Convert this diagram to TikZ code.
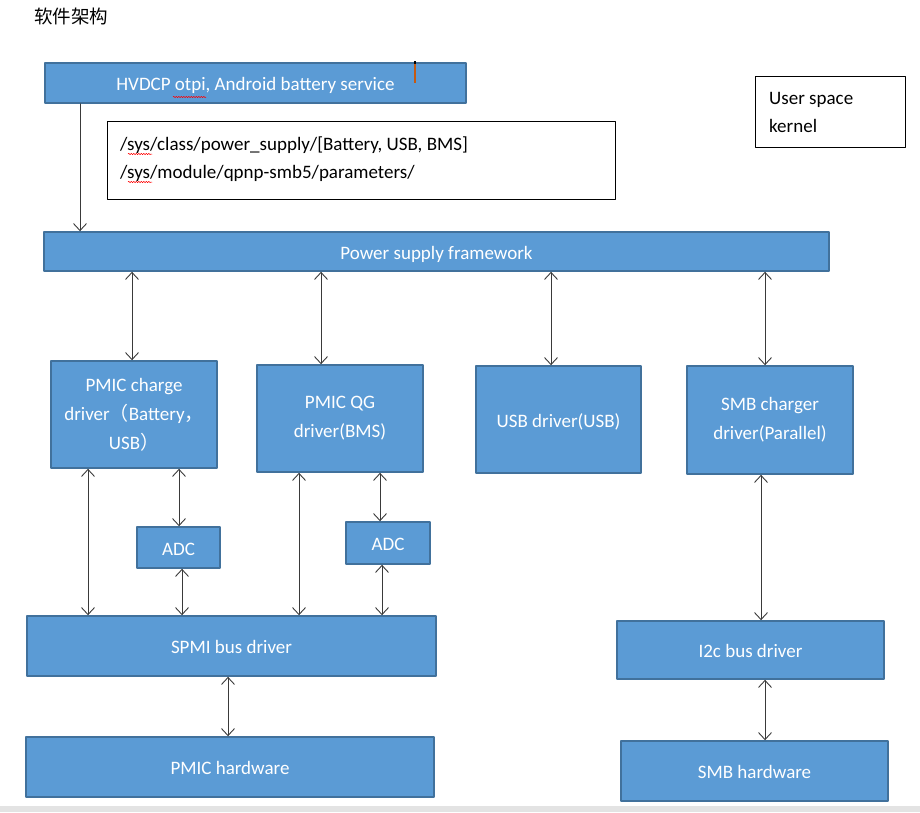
\documentclass[tikz,border=0pt]{standalone}
\usepackage{fontspec}
\setmainfont{Carlito}
\newfontfamily\cjk{Noto Sans CJK SC}
\usetikzlibrary{arrows.meta,decorations.pathmorphing}
\definecolor{boxfill}{HTML}{5B9BD5}
\definecolor{boxline}{HTML}{41719C}
\definecolor{wireline}{HTML}{3A3A3A}
\definecolor{cursor}{HTML}{C55A11}
\tikzset{
  blk/.style={draw=boxline, line width=1.6pt, fill=boxfill, text=white,
    font=\fontsize{19}{29}\selectfont, align=center, inner sep=0pt},
  oneline/.style={text height=16pt, text depth=1pt},
  note/.style={draw=black, line width=1pt, fill=white, inner sep=0pt},
  notetext/.style={anchor=base west, inner sep=0pt, font=\fontsize{19}{29}\selectfont},
  tip/.tip={Straight Barb[length=7pt,width=13pt]},
  link/.style={wireline, line width=0.9pt, tip-tip},
  squiggle/.style={red, line width=0.5pt, decorate,
    decoration={snake, amplitude=0.7pt, segment length=2.5pt}},
}
\begin{document}
\begin{tikzpicture}[x=1pt, y=-1pt, line cap=round, line join=round]
  % page frame, pixel coordinates
  \useasboundingbox (0,0) rectangle (920,812);
  \fill[gray!22] (0,806) rectangle (920,812);

  % title
  \node[inner sep=0pt, font=\cjk\fontsize{18.5}{22}\selectfont] (title) at (71,16) {软件架构};

  % user space
  \node[blk, oneline, minimum width=421, minimum height=40] (hvdcp) at (255.5,83) {HVDCP otpi, Android battery service};
  \draw[squiggle] (173,97) -- (206,97);
  \draw[cursor, line width=1.2pt, line cap=butt] (415,63) -- (415,83);
  \draw[black, line width=1.2pt, line cap=butt] (415,61) -- (415,63.5);

  \node[note, minimum width=508, minimum height=78] (sysfs) at (361,160) {};
  \node[notetext] (sysclass) at (120,150) {/sys/class/power\_supply/[Battery, USB, BMS]};
  \node[notetext] (sysmodule) at (120,178) {/sys/module/qpnp-smb5/parameters/};
  \draw[squiggle] (128,154) -- (152,154);
  \draw[squiggle] (128,182) -- (152,182);

  \node[note, minimum width=150, minimum height=71] (legend) at (830,111.5) {};
  \node[notetext] (userspace) at (769,104) {User space};
  \node[notetext] (kernel) at (769,132) {kernel};

  % kernel
  \node[blk, oneline, minimum width=785, minimum height=39] (psf) at (436.5,251.5) {Power supply framework};

  \node[blk, minimum width=166, minimum height=107] (pmicchg) at (134,414.5) {PMIC charge\\driver{\cjk （}Battery{\cjk ，}\\USB{\cjk ）}};
  \node[blk, minimum width=166, minimum height=107] (pmicqg) at (340,418.5) {PMIC QG\\driver(BMS)};
  \node[blk, oneline, minimum width=165, minimum height=107] (usbdrv) at (558.5,419.5) {USB driver(USB)};
  \node[blk, minimum width=166, minimum height=108] (smbdrv) at (770,420) {SMB charger\\driver(Parallel)};

  \node[blk, oneline, minimum width=83, minimum height=41] (adcA) at (178.5,547.5) {ADC};
  \node[blk, oneline, minimum width=84, minimum height=42] (adcB) at (388,543) {ADC};

  \node[blk, oneline, minimum width=409, minimum height=60] (spmi) at (231.5,646) {SPMI bus driver};
  \node[blk, oneline, minimum width=267, minimum height=58] (i2c) at (750.5,650) {I2c bus driver};

  \node[blk, oneline, minimum width=408, minimum height=60] (pmichw) at (230,767) {PMIC hardware};
  \node[blk, oneline, minimum width=267, minimum height=60] (smbhw) at (754.5,771) {SMB hardware};

  % connectors
  \draw[wireline, line width=0.9pt, -tip] (hvdcp.south -| 80,0) -- (psf.north -| 80,0);

  \draw[link] (psf.south -| 132,0) -- (pmicchg.north -| 132,0);
  \draw[link] (psf.south -| 321,0) -- (pmicqg.north -| 321,0);
  \draw[link] (psf.south -| 551,0) -- (usbdrv.north -| 551,0);
  \draw[link] (psf.south -| 765,0) -- (smbdrv.north -| 765,0);

  \draw[link] (pmicchg.south -| 88,0) -- (spmi.north -| 88,0);
  \draw[link] (pmicchg.south -| 179,0) -- (adcA.north -| 179,0);
  \draw[link] (adcA.south -| 182,0) -- (spmi.north -| 182,0);
  \draw[link] (pmicqg.south -| 299,0) -- (spmi.north -| 299,0);
  \draw[link] (pmicqg.south -| 380,0) -- (adcB.north -| 380,0);
  \draw[link] (adcB.south -| 382,0) -- (spmi.north -| 382,0);

  \draw[link] (spmi.south -| 228,0) -- (pmichw.north -| 228,0);
  \draw[link] (smbdrv.south -| 761,0) -- (i2c.north -| 761,0);
  \draw[link] (i2c.south -| 765,0) -- (smbhw.north -| 765,0);
\end{tikzpicture}
\end{document}
